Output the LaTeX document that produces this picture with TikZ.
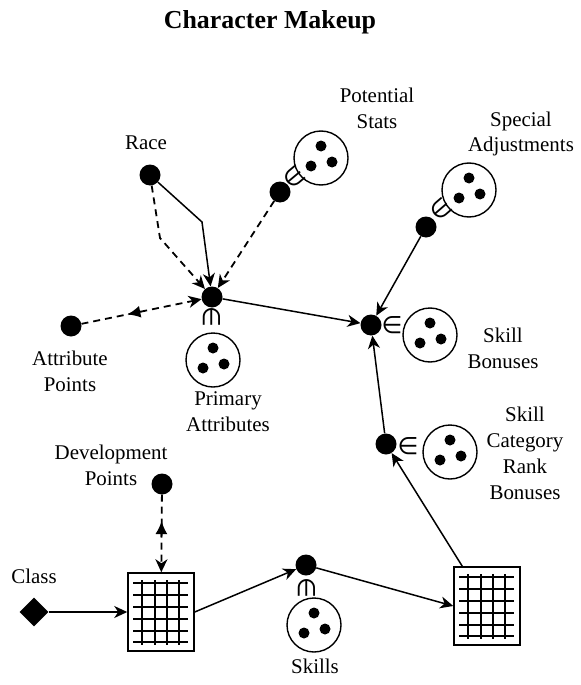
\documentclass[tikz,border=0pt]{standalone}
\usepackage{fontspec}
\setmainfont{Liberation Serif}
\newfontfamily\symfont{DejaVu Sans}
\usetikzlibrary{arrows.meta,shapes.geometric,calc}

\tikzset{
  dot/.style={circle,fill,inner sep=0pt,minimum size=21bp},
  pool/.style={circle,draw,line width=1.4bp,inner sep=0pt,minimum size=54bp,
    path picture={
      \fill ([yshift=12bp]path picture bounding box.center) circle (5.5bp);
      \fill ([xshift=-10bp,yshift=-8bp]path picture bounding box.center) circle (5.5bp);
      \fill ([xshift=11bp,yshift=-4bp]path picture bounding box.center) circle (5.5bp);}},
  member/.style={inner sep=0pt,font={\fontsize{24}{24}\symfont}},
  chart/.style={rectangle,draw,line width=1.5bp,minimum width=66bp,minimum height=78bp,inner sep=0pt},
  words/.style={align=center,font=\fontsize{21}{26}\selectfont},
  link/.style={line width=1.5bp,-{Stealth[length=13bp,width=12bp,inset=4bp]}},
  hint/.style={link,dash pattern=on 7bp off 5bp,line width=1.8bp},
  midtip/.style={-{Latex[length=13bp,width=12bp]},line width=1.5bp},
}

\begin{document}
\begin{tikzpicture}[x=1bp,y=-1bp]
\useasboundingbox (0,0) rectangle (581,685);

\node[words,font=\fontsize{26}{30}\selectfont\bfseries] (title) at (270,22) {Character Makeup};

\node[dot] (race) at (150,175) {};
\node[words] (racetext) at (146,143) {Race};
\coordinate (raceknee) at (202,222);
\coordinate (racebend) at (160,238);

\node[dot] (potential) at (280,192) {};
\node[pool] (potentialset) at (321,158) {};
\node[member,rotate=40] (potentialin) at (294,177) {∈};
\node[words] (potentialtext) at (377,108) {Potential\\Stats};

\node[dot] (special) at (426,227) {};
\node[pool] (specialset) at (469,190) {};
\node[member,rotate=41] (specialin) at (441,209) {∈};
\node[words] (specialtext) at (521,134) {Special\\Adjustments};

\node[dot] (primary) at (212,297) {};
\node[pool] (primaryset) at (213,360) {};
\node[member,rotate=-90] (primaryin) at (212,317) {∈};
\node[words] (primarytext) at (228,412) {Primary\\Attributes};

\node[dot] (attribute) at (71,326) {};
\node[words] (attributetext) at (70,371) {Attribute\\Points};

\node[dot] (bonus) at (371,325) {};
\node[pool] (bonusset) at (430,335) {};
\node[member] (bonusin) at (392,325) {∈};
\node[words] (bonustext) at (503,348) {Skill\\Bonuses};

\node[dot] (category) at (386,444) {};
\node[pool] (categoryset) at (450,452) {};
\node[member] (categoryin) at (408,446) {∈};
\node[words] (categorytext) at (525,453) {Skill\\Category\\Rank\\Bonuses};

\node[dot] (develop) at (162,484) {};
\node[words] (developtext) at (111,465) {Development\\Points};

\node[diamond,fill,inner sep=0pt,minimum width=29bp,minimum height=29bp] (class) at (34,612) {};
\node[words] (classtext) at (34,576) {Class};

\node[chart] (classchart) at (161,612) {};
\node[chart] (skillchart) at (487,606) {};

\node[dot] (skill) at (306,565) {};
\node[pool] (skillset) at (314,625) {};
\node[member,rotate=-90] (skillin) at (307,588) {∈};
\node[words] (skilltext) at (315,666) {Skills};

\foreach \g in {classchart,skillchart}{
  \begin{scope}[shift={(\g.center)}]
    \foreach \r in {-17,-5,7,19,30} \draw[line width=1.1bp] (-28,\r) -- (27,\r);
    \foreach \c in {-6,6,18} \draw[line width=1.1bp] (\c,-32) -- (\c,33);
    \draw[line width=2.6bp] (-28,-29) -- (27,-29);
    \draw[line width=2.6bp] (-19,-32) -- (-19,33);
  \end{scope}
}

\draw[link] (race) -- (raceknee) -- (primary);
\draw[hint] (race) -- (racebend) -- (primary);
\draw[hint] (potential) -- (primary);
\draw[hint] (attribute) -- (primary);
\draw[midtip] ($(attribute)!0.50!(primary)$) -- ($(attribute)!0.40!(primary)$);
\draw[link] (primary) -- (bonus);
\draw[link] (special) -- (bonus);
\draw[link] (category) -- (bonus);
\draw[link] (skillchart) -- (category);
\draw[hint] (develop) -- (classchart);
\draw[midtip] ($(develop)!0.60!(classchart.north)$) -- ($(develop)!0.42!(classchart.north)$);
\draw[link] (class) -- (classchart);
\draw[link] (classchart.east) -- (skill);
\draw[link] (skill) -- (skillchart.west);
\end{tikzpicture}
\end{document}
